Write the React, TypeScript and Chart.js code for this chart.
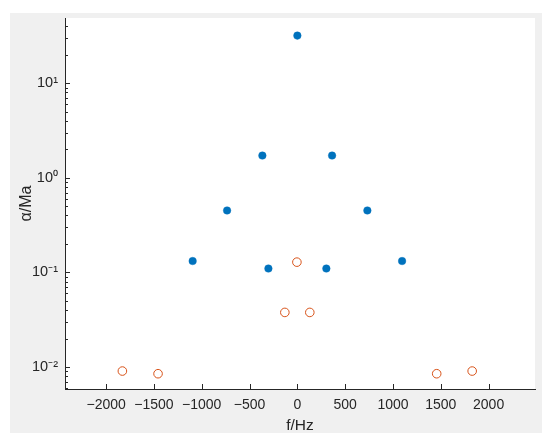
import React, { useEffect, useRef } from "react";
import { Chart, registerables } from "chart.js";

Chart.register(...registerables);

// ---- data ----
const blueF = [-1095, -735, -366, -303, 0, 303, 363, 732, 1095];
const blueA = [0.132, 0.452, 1.72, 0.110, 31.9, 0.110, 1.72, 0.452, 0.132];

const orangeF = [-1830, -1457, -131, -5, 130, 1457, 1828];
const orangeA = [0.00907, 0.0085, 0.0378, 0.1285, 0.0378, 0.0085, 0.00907];

const xTickValues = [-2000, -1500, -1000, -500, 0, 500, 1000, 1500, 2000];
const xTickLabels = ["−2000", "−1500", "−1000", "−500", "0", "500", "1000", "1500", "2000"];

const yMajorTicks = [0.01, 0.1, 1, 10];
const yTickLabels = ["10⁻²", "10⁻¹", "10⁰", "10¹"];
const yDecades = [0.001, 0.01, 0.1, 1, 10];
const yMultipliers = [1, 2, 3, 4, 5, 6, 7, 8, 9];

const X_MIN = -2430;
const X_MAX = 2485;
const Y_MIN = 0.00586;
const Y_MAX = 48.95;

const AXIS_COLOR = "#262626";
const FONT = "'Liberation Sans', Arial, Helvetica, sans-serif";

const isMajor = (v: number) => yMajorTicks.some((m) => Math.abs(v - m) / m < 1e-6);

const bgPlugin = {
  id: "matlabBg",
  beforeDraw(chart: any) {
    const { ctx, chartArea } = chart;
    ctx.save();
    ctx.fillStyle = "#ffffff";
    ctx.fillRect(0, 0, chart.width, chart.height);
    ctx.fillStyle = "#f0f0f0";
    ctx.fillRect(10, 13, 532, 420);
    ctx.fillStyle = "#ffffff";
    ctx.fillRect(chartArea.left, chartArea.top, chartArea.right - chartArea.left, chartArea.bottom - chartArea.top);
    ctx.restore();
  },
  beforeDatasetsDraw(chart: any) {
    const { ctx, chartArea } = chart;
    const xs = chart.scales.x;
    const ys = chart.scales.y;
    ctx.save();
    ctx.strokeStyle = AXIS_COLOR;
    ctx.lineWidth = 1;
    ctx.beginPath();
    xs.ticks.forEach((t: any) => {
      const px = Math.round(xs.getPixelForValue(t.value)) + 0.5;
      ctx.moveTo(px, chartArea.bottom);
      ctx.lineTo(px, chartArea.bottom - 5);
    });
    ys.ticks.forEach((t: any) => {
      const py = Math.round(ys.getPixelForValue(t.value)) + 0.5;
      const len = isMajor(t.value) ? 5 : 3;
      ctx.moveTo(chartArea.left, py);
      ctx.lineTo(chartArea.left + len, py);
    });
    ctx.stroke();
    ctx.restore();
  },
};

export default function App() {
  const canvasRef = useRef<HTMLCanvasElement | null>(null);

  useEffect(() => {
    if (!canvasRef.current) return;
    Chart.defaults.font.family = FONT;
    const chart = new Chart(canvasRef.current, {
      type: "scatter",
      data: {
        datasets: [
          {
            label: "filled",
            data: blueF.map((f, i) => ({ x: f, y: blueA[i] })),
            backgroundColor: "#0072BD",
            borderColor: "#0072BD",
            pointRadius: 3.8,
            pointBorderWidth: 0.4,
          },
          {
            label: "open",
            data: orangeF.map((f, i) => ({ x: f, y: orangeA[i] })),
            backgroundColor: "rgba(0,0,0,0)",
            borderColor: "#D95319",
            pointRadius: 4.3,
            pointBorderWidth: 1,
          },
        ],
      },
      options: {
        responsive: false,
        animation: false,
        layout: { padding: { left: 0, right: 15, top: 18, bottom: 0 } },
        plugins: {
          legend: { display: false },
          tooltip: { enabled: false },
        },
        scales: {
          x: {
            type: "linear",
            min: X_MIN,
            max: X_MAX,
            grid: { display: false, drawTicks: false },
            border: { display: true, color: AXIS_COLOR, width: 1 },
            afterBuildTicks: (scale: any) => {
              scale.ticks = xTickValues.map((v) => ({ value: v }));
            },
            afterFit: (scale: any) => {
              scale.height = 55;
            },
            ticks: {
              autoSkip: false,
              maxRotation: 0,
              padding: 8,
              color: AXIS_COLOR,
              font: { size: 14 },
              callback: (v: any) => {
                const i = xTickValues.indexOf(Number(v));
                return i >= 0 ? xTickLabels[i] : "";
              },
            },
            title: {
              display: true,
              text: "f/Hz",
              color: AXIS_COLOR,
              font: { size: 15.5 },
              padding: { top: 0, bottom: 9 },
            },
          },
          y: {
            type: "logarithmic",
            min: Y_MIN,
            max: Y_MAX,
            grid: { display: false, drawTicks: false },
            border: { display: true, color: AXIS_COLOR, width: 1 },
            afterBuildTicks: (scale: any) => {
              const vals: number[] = [];
              yDecades.forEach((d) =>
                yMultipliers.forEach((m) => {
                  const v = Number((d * m).toPrecision(6));
                  if (v >= Y_MIN && v <= Y_MAX) vals.push(v);
                })
              );
              scale.ticks = vals.map((v) => ({ value: v, major: isMajor(v) }));
            },
            afterFit: (scale: any) => {
              scale.width = 65;
            },
            ticks: {
              autoSkip: false,
              padding: 7,
              color: AXIS_COLOR,
              font: { size: 14.5 },
              callback: (v: any) => {
                const i = yMajorTicks.findIndex((m) => Math.abs(Number(v) - m) / m < 1e-6);
                return i >= 0 ? yTickLabels[i] : "";
              },
            },
            title: {
              display: true,
              text: "α/Ma",
              color: AXIS_COLOR,
              font: { size: 16 },
              padding: { top: 17, bottom: 0 },
            },
          },
        },
      },
      plugins: [bgPlugin],
    });
    return () => chart.destroy();
  }, []);

  return (
    <div style={{ position: "fixed", left: 0, top: 0, width: 550, height: 444 }}>
      <canvas ref={canvasRef} width={550} height={444} style={{ display: "block" }} />
    </div>
  );
}
